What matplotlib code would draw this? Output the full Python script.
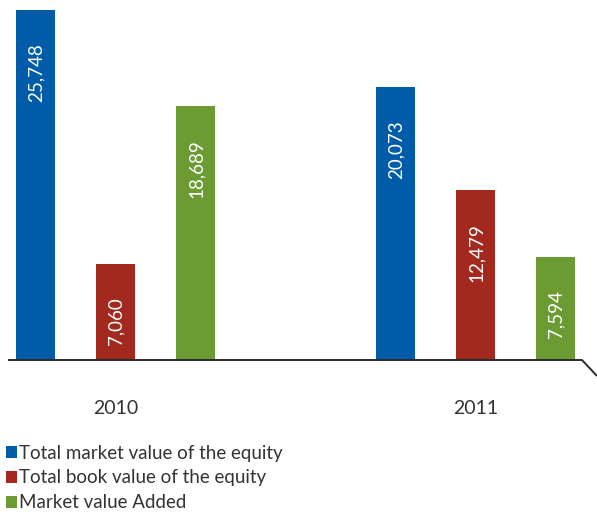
import matplotlib
matplotlib.use("Agg")
import matplotlib.pyplot as plt
from matplotlib.patches import Patch

years = ["2010", "2011"]
series_names = ["Total market value of the equity",
                "Total book value of the equity",
                "Market value Added"]
market_value = [25748, 20073]
book_value = [7060, 12479]
value_added = [18689, 7594]
colors = ["#005ca9", "#a3291f", "#6c9a33"]

W, H, DPI = 597, 516, 100
plt.rcParams["font.family"] = ["Lato", "DejaVu Sans"]

fig = plt.figure(figsize=(W / DPI, H / DPI), dpi=DPI)
# axes spans from x=8px to x=582px, baseline at y=360px
ax = fig.add_axes([8 / W, (H - 360) / H, (582 - 8) / W, 360 / H])
px_val = 25748 / 350.0
ax.set_ylim(0, 360 * px_val)
ax.set_xlim((8 - 35.5) / 80, (582 - 35.5) / 80)
ax.axis("off")

group_x = [0.0, 4.5]
width = 39 / 80
series = [market_value, book_value, value_added]
for i, (vals, col) in enumerate(zip(series, colors)):
    xs = [g + i for g in group_x]
    ax.bar(xs, vals, width=width, color=col, linewidth=0)
    for x, v in zip(xs, vals):
        ax.annotate(f"{v:,}", xy=(x, v), xytext=(0.5, -24), textcoords="offset points",
                    rotation=90, ha="center", va="top", color="white",
                    fontsize=13.5)

# baseline with a slanted end
x_end = (597 - 35.5) / 80
ax.plot([ax.get_xlim()[0], ax.get_xlim()[1], x_end], [0, 0, -16 * px_val],
        color="#2b2b2b", lw=1.4, clip_on=False, solid_capstyle="butt")

for g, yr in zip(group_x, years):
    ax.text(g + 1, -49 * px_val, yr, ha="center", va="center", fontsize=14,
            color="#333333")

handles = [Patch(facecolor=c, edgecolor="none") for c in colors]
fig.legend(handles, series_names, loc="upper left",
           bbox_to_anchor=(0 / W, 1 - 439 / H), frameon=False,
           handlelength=0.62, handleheight=0.62, handletextpad=0.08,
           labelspacing=0.42, borderpad=0, borderaxespad=0.3,
           labelcolor="#333333", prop={"size": 13.5})

fig.savefig("out.png", dpi=DPI)
